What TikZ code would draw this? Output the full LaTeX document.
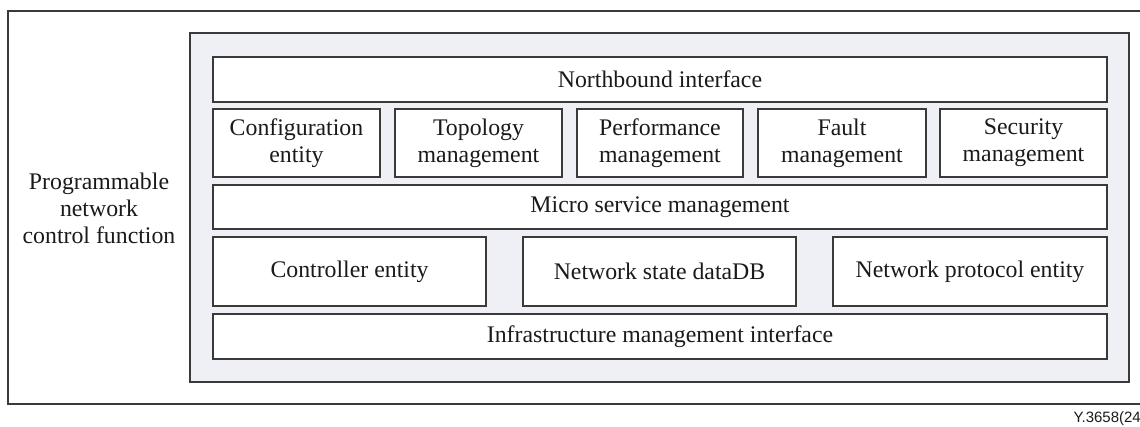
\documentclass[tikz,border=0pt]{standalone}
\usepackage{fontspec}
\setmainfont{Liberation Serif}
\newfontfamily\labelfont{Liberation Sans}
\definecolor{linegray}{HTML}{3A3A3A}
\definecolor{panelfill}{HTML}{EEF0F5}
\definecolor{txt}{HTML}{1A1A1A}
\begin{document}
\begin{tikzpicture}[x=1pt,y=-1pt,
  box/.style={draw=linegray, line width=1.4pt, fill=white, inner sep=0pt, align=center,
    font=\fontsize{23.8}{27}\selectfont, text=txt},
  wide/.style={box, minimum width=894pt, minimum height=45pt},
  small/.style={box, minimum width=167pt, minimum height=68pt},
  mid/.style={box, minimum width=273pt, minimum height=69pt},
  panel/.style={draw=linegray, line width=1.4pt, fill=panelfill, inner sep=0pt,
    minimum width=939pt, minimum height=349pt},
  frameline/.style={draw=linegray, line width=1.6pt}]
\useasboundingbox (0,0) rectangle (1140,427);
\draw[frameline] (1141,11) -- (8,11) -- (8,404) -- (1141,404);
\node[align=center, font=\fontsize{23.8}{27}\selectfont, text=txt] (pncf) at (99,208) {Programmable\\network\\control function};
\node[panel] (panel) at (659.5,207.5) {};
\node[wide] (nb) at (660,79.5) {Northbound interface};
\node[small] (cfg) at (296.5,143) {Configuration\\entity};
\node[small] (topo) at (478.5,143) {Topology\\management};
\node[small, minimum width=166pt] (perf) at (660,143) {Performance\\management};
\node[small, minimum width=168pt] (fault) at (842,143) {Fault\\management};
\node[small] (sec) at (1023.5,143) {Security\\management};
\node[wide, minimum height=44pt] (micro) at (660,207) {Micro service management};
\node[mid] (ctrl) at (349.5,271.5) {Controller entity};
\node[mid] (nsd) at (659.5,271.5) {Network state dataDB};
\node[mid, minimum width=274pt] (npe) at (970,271.5) {Network protocol entity};
\node[wide] (infra) at (660,336.5) {Infrastructure management interface};
\node[anchor=base east, inner sep=0pt, font=\labelfont\fontsize{15}{18}\selectfont, text=txt] (fig) at (1141,422) {Y.3658(24};
\end{tikzpicture}
\end{document}
